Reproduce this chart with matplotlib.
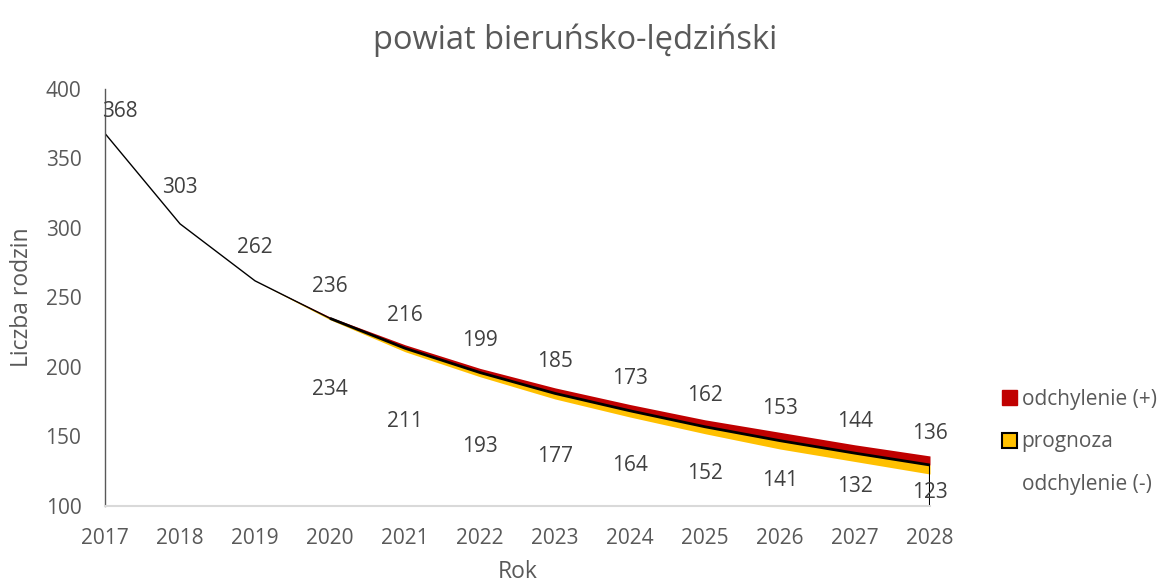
import matplotlib
matplotlib.use("Agg")
import matplotlib.pyplot as plt
from matplotlib.patches import Patch
import numpy as np

years = [2017, 2018, 2019, 2020, 2021, 2022, 2023, 2024, 2025, 2026, 2027, 2028]
upper = [368, 303, 262, 236, 216, 199, 185, 173, 162, 153, 144, 136]
prognoza = [368, 303, 262, 235, 213.5, 196, 181, 168.5, 157, 147, 138, 129.5]
lower = [368, 303, 262, 234, 211, 193, 177, 164, 152, 141, 132, 123]
lower_label_years = [2020, 2021, 2022, 2023, 2024, 2025, 2026, 2027, 2028]
lower_labels = [234, 211, 193, 177, 164, 152, 141, 132, 123]

title = "powiat bieruńsko-lędziński"
xlabel = "Rok"
ylabel = "Liczba rodzin"
legend_labels = ["odchylenie (+)", "prognoza", "odchylenie (-)"]

RED = "#C00000"
YEL = "#FFC000"
TXT = "#595959"
LBL = "#404040"
FS = 15

plt.rcParams['font.family'] = ['Open Sans', 'DejaVu Sans']

fig = plt.figure(figsize=(11.62, 5.86), dpi=100)
ax = fig.add_axes([105/1162, 1-506/586, (930-105)/1162, (506-89)/586])

x = np.array(years)
up = np.array(upper)
mid = np.array(prognoza)
lo = np.array(lower)

ax.fill_between(x, lo, mid, color=YEL, lw=0)
ax.fill_between(x, mid, up, color=RED, lw=0)
hist = x <= 2020
ax.plot(x[hist], mid[hist], color="black", lw=1.0)
ax.plot(x[x >= 2020], mid[x >= 2020], color="black", lw=2.0, solid_capstyle="butt")
ax.plot([x[-1], x[-1]], [100, mid[-1]], color="black", lw=1.5)

ax.set_xlim(2017, 2028)
ax.set_ylim(100, 400)
ax.set_xticks(years)
ax.set_yticks([100, 150, 200, 250, 300, 350, 400])
ax.tick_params(axis='both', length=0, labelsize=FS, colors=TXT)
ax.tick_params(axis='y', pad=17)
ax.tick_params(axis='x', pad=16)

for s in ["top", "right"]:
    ax.spines[s].set_visible(False)
ax.spines["left"].set_color("#595959")
ax.spines["left"].set_linewidth(1.0)
ax.spines["bottom"].set_color("#d9d9d9")
ax.spines["bottom"].set_linewidth(1.5)

# data labels
for yr, v in zip(years, upper):
    dx = 15 if yr == years[0] else 0
    yy = min(1.06 * v + 8, 384)
    ax.annotate(str(v), (yr, yy), xytext=(dx * 0.72, 0), textcoords="offset points",
                ha="center", va="center", fontsize=FS, color=LBL)
for yr, v in zip(lower_label_years, lower_labels):
    yy = max(100 + 0.48 * (v - 100), v - 49) - 1.5
    ax.annotate(str(v), (yr, yy), ha="center", va="center", fontsize=FS, color=LBL)

ax.set_xlabel(xlabel, fontsize=16.5, color=TXT, labelpad=8)
ax.set_ylabel(ylabel, fontsize=16.5, color=TXT, labelpad=8)
fig.text(575/1162, 1-40/586, title, ha="center", va="center", fontsize=23.5, color=TXT)

handles = [Patch(facecolor=RED, edgecolor=RED),
           Patch(facecolor=YEL, edgecolor="black", lw=1.5),
           Patch(facecolor="none", edgecolor="none")]
leg = fig.legend(handles, legend_labels, loc="center left", bbox_to_anchor=(983/1162, 1-442/586),
                 frameon=False, fontsize=FS, labelcolor=TXT, handlelength=0.75, handleheight=0.75,
                 handletextpad=0.2, labelspacing=1.05)

fig.savefig("out.png", dpi=100)
